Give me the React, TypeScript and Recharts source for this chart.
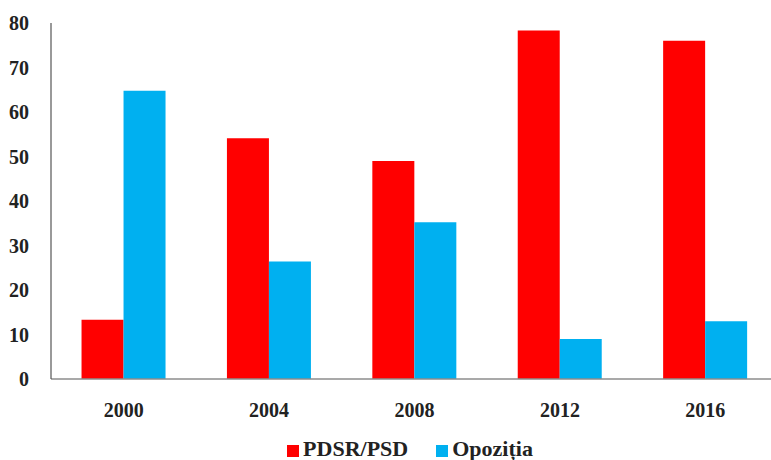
import React from 'react';
import { BarChart, Bar, XAxis, YAxis, Legend } from 'recharts';

const years = ['2000', '2004', '2008', '2012', '2016'];
const pdsrPsd = [13.3, 54.1, 49, 78.3, 76];
const opozitia = [64.8, 26.4, 35.2, 9, 13];
const yTicks = [0, 10, 20, 30, 40, 50, 60, 70, 80];
const seriesOrder = ['PDSR/PSD', 'Opoziția'];

const data = years.map((year, i) => ({ year, pdsr: pdsrPsd[i], opoz: opozitia[i] }));

const font = '"Liberation Serif", "Times New Roman", serif';

export default function App() {
  return (
    <div style={{ position: 'fixed', left: 0, top: 0, width: 771, height: 460, background: '#fff', fontFamily: font, overflow: 'hidden' }}>
      <BarChart width={771} height={460} data={data} margin={{ top: 23, right: -7, left: 0, bottom: 0 }} barGap={0} barCategoryGap="21%">
        <XAxis
          dataKey="year"
          height={45}
          tickLine={false}
          axisLine={{ stroke: '#8c8c8c', strokeWidth: 1.5 }}
          tick={{ fontSize: 20, fontWeight: 700, fill: '#222', fontFamily: font }}
          tickMargin={18}
        />
        <YAxis
          width={51}
          domain={[0, 80]}
          ticks={yTicks}
          interval={0}
          tickLine={false}
          axisLine={{ stroke: '#555', strokeWidth: 1.2 }}
          tick={{ fontSize: 20, fontWeight: 700, fill: '#222', fontFamily: font }}
          tickMargin={16}
        />
        <Legend
          verticalAlign="bottom"
          align="center"
          iconType="square"
          iconSize={12}
          height={36}
          itemSorter={(item: any) => seriesOrder.indexOf(item.value)}
          wrapperStyle={{ top: 438, bottom: 'auto', paddingLeft: 35, fontSize: 22, fontWeight: 700, fontFamily: font, lineHeight: '22px' }}
          formatter={(value) => <span style={{ color: '#222', marginRight: 18 }}>{value}</span>}
        />
        <Bar dataKey="pdsr" name="PDSR/PSD" fill="#ff0000" isAnimationActive={false} />
        <Bar dataKey="opoz" name="Opoziția" fill="#00b0f0" isAnimationActive={false} />
      </BarChart>
    </div>
  );
}
